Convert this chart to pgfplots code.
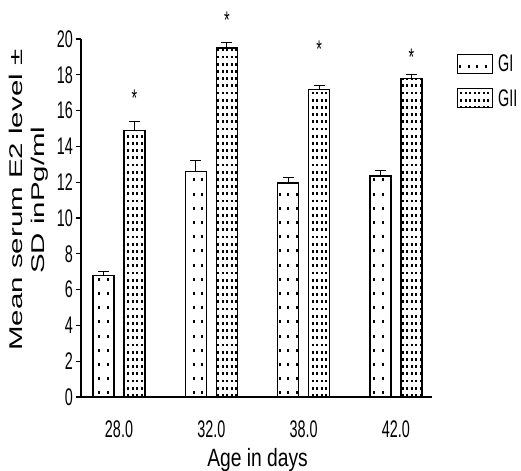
\documentclass[border=0pt]{standalone}
\usepackage{pgfplots}
\pgfplotsset{compat=1.18}
\usepackage{fontspec}
\setmainfont{Liberation Sans}
\newfontfamily\narrowfont[FakeStretch=0.6]{Liberation Sans}
\newfontfamily\xlabfont[FakeStretch=0.77]{Liberation Sans}
\newfontfamily\tallfont[FakeStretch=1.6]{Liberation Sans}
\usetikzlibrary{patterns}

\pgfdeclarepatternformonly{sparsedots}{\pgfqpoint{-0.5bp}{-0.5bp}}{\pgfqpoint{9bp}{14.2bp}}{\pgfqpoint{8.6bp}{14.2bp}}{%
  \pgfpathrectangle{\pgfqpoint{3.3bp}{5.6bp}}{\pgfqpoint{2bp}{3bp}}\pgfusepath{fill}}
\pgfdeclarepatternformonly{densedots}{\pgfqpoint{-0.5bp}{-0.5bp}}{\pgfqpoint{4.6bp}{7.3bp}}{\pgfqpoint{4.5bp}{7.2bp}}{%
  \pgfpathrectangle{\pgfqpoint{1.2bp}{2.2bp}}{\pgfqpoint{2bp}{2.8bp}}\pgfusepath{fill}}

\pgfplotsset{
  errstyle/.style={draw=none, mark=none, forget plot,
    error bars/.cd, y dir=plus, y explicit,
    error bar style={line width=1.2bp, black, solid},
    error mark options={rotate=90, mark size=5.5bp, line width=1.2bp, black, solid}},
}

\begin{document}
\begin{tikzpicture}
\useasboundingbox (-81bp,-74bp) rectangle (440bp,397bp);
\begin{axis}[
  at={(0,0)}, anchor=south west,
  scale only axis,
  width=351bp, height=358bp,
  xmin=-0.4116, xmax=3.39,
  ymin=0, ymax=20,
  clip=false,
  axis lines*=left,
  axis line style={line width=1.4bp},
  xtick={0,1,2,3},
  xticklabels={28.0,32.0,38.0,42.0},
  x tick style={draw=none},
  ytick={0,2,...,20},
  y tick style={line width=1.2bp, black},
  tick align=outside,
  major tick length=5bp,
  /pgf/number format/assume math mode=true,
  xticklabel style={font=\narrowfont\fontsize{24bp}{28bp}\selectfont, anchor=base, yshift=-35bp, inner sep=0pt},
  yticklabel style={font=\narrowfont\fontsize{24bp}{28bp}\selectfont, anchor=east, inner sep=0pt, xshift=-3bp},
  xlabel={Age in days},
  xlabel style={font=\xlabfont\fontsize{25bp}{28bp}\selectfont, at={(axis description cs:0.503,-0.1955)}, anchor=base, inner sep=0pt},
  ylabel={Mean serum E2 level ±\\SD inPg/ml},
  ylabel style={font=\tallfont\fontsize{18.4bp}{22bp}\selectfont, align=center, at={(axis description cs:-0.1496,0.55)}, anchor=center, inner sep=0pt},
  legend style={at={(axis description cs:1.071,0.958)}, anchor=north west, draw=none, fill=none, inner sep=0pt,
    font=\narrowfont\fontsize{24bp}{28bp}\selectfont, row sep=14bp,
    nodes={inner sep=0pt, anchor=west}},
  legend image code/.code={\draw[#1, draw=black, line width=1.1bp] (0bp,-9.5bp) rectangle (35bp,9.5bp);},
  legend cell align=left,
]
\addplot[ybar, bar width=21bp, bar shift=-15.5bp, fill=white, draw=black, line width=1.2bp,
  postaction={pattern=sparsedots, pattern color=black}]
coordinates {(0,6.8) (1,12.6) (2,11.95) (3,12.35)};
\addlegendentry{\hspace{5bp}GI}
\addplot[ybar, bar width=21bp, bar shift=15.5bp, fill=white, draw=black, line width=1.2bp,
  postaction={pattern=densedots, pattern color=black}]
coordinates {(0,14.9) (1,19.5) (2,17.2) (3,17.8)};
\addlegendentry{\hspace{5bp}GII}
\addplot[errstyle]
coordinates {(-0.168,6.8) +- (0,0.22) (0.832,12.6) +- (0,0.6) (1.832,11.95) +- (0,0.3) (2.832,12.35) +- (0,0.3)};
\addplot[errstyle]
coordinates {(0.168,14.9) +- (0,0.5) (1.168,19.5) +- (0,0.3) (2.168,17.2) +- (0,0.2) (3.168,17.8) +- (0,0.2)};
\addplot[draw=none, mark=none, forget plot,
  nodes near coords={*}, nodes near coords align={center},
  every node near coord/.append style={font=\narrowfont\fontsize{24bp}{28bp}\selectfont, inner sep=0pt, yshift=-5bp}]
coordinates {(0.168,16.98) (1.168,21.34) (2.168,19.72) (3.168,19.27)};
\end{axis}
\end{tikzpicture}
\end{document}
